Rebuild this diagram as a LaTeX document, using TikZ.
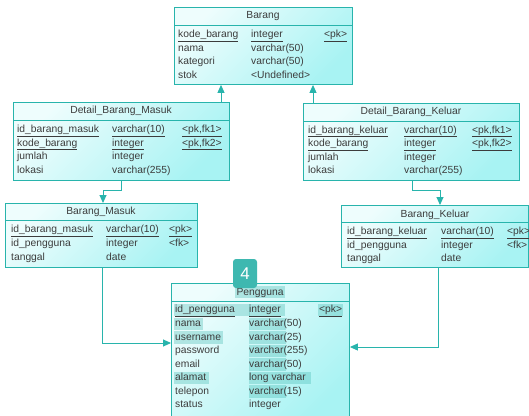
\documentclass[tikz,border=0pt]{standalone}
\usepackage{fontspec}
\setmainfont{Liberation Sans}
\usetikzlibrary{arrows.meta}
\definecolor{edgec}{RGB}{40,180,172}
\definecolor{fillA}{RGB}{238,253,253}
\definecolor{fillB}{RGB}{168,243,243}
\definecolor{txtc}{RGB}{60,60,60}
\definecolor{hlc}{RGB}{64,184,176}
\definecolor{badgec}{RGB}{62,184,176}
\newcommand\erow[8]{%
  \node[txt] (#1n) at (#3,#2) {#4};
  \node[txt] (#1t) at (#5,#2) {#6};
  \node[txt] (#1k) at (#7,#2) {#8};}
\newcommand\hlbox[3]{\fill[hlc,opacity=.33] (#1,#3-6.5) rectangle (#2,#3+6);}
\begin{document}
\begin{tikzpicture}[x=1pt,y=-1pt,
  tbl/.style={draw=edgec, line width=0.9pt, shading=axis, top color=fillA,
    bottom color=fillB, shading angle=45, rectangle, inner sep=0, anchor=north west},
  sepline/.style={draw=edgec, line width=0.9pt},
  txt/.style={anchor=mid west, inner sep=0, text=txtc, font=\fontsize{10.3}{12}\selectfont},
  ttl/.style={anchor=mid, inner sep=0, text=txtc, font=\fontsize{10.3}{12}\selectfont},
  conn/.style={draw=edgec, line width=0.9pt},
  arr/.style={conn, -{Triangle[length=8pt,width=7pt]}},
  badge/.style={fill=badgec, rounded corners=3pt, inner sep=0, minimum width=24pt,
    minimum height=29pt, text=white, font=\fontsize{17}{17}\selectfont}]
\useasboundingbox (0,0) rectangle (529,415);
\clip (0,0) rectangle (529,415);
\fill[white] (0,0) rectangle (529,415);

% ---------- Barang
\node[tbl, minimum width=178pt, minimum height=77pt] (barang) at (174,7) {};
\draw[sepline] (174,25) -- (352,25);
\node[ttl] (barangT) at (263,16) {Barang};
\erow{b1}{35}{178}{\underline{kode\_barang}}{251}{\underline{integer}}{324}{\underline{<pk>}}
\erow{b2}{48.5}{178}{nama}{251}{varchar(50)}{324}{}
\erow{b3}{62}{178}{kategori}{251}{varchar(50)}{324}{}
\erow{b4}{75.5}{178}{stok}{251}{<Undefined>}{324}{}

% ---------- Detail_Barang_Masuk
\node[tbl, minimum width=216pt, minimum height=78pt] (dbm) at (13,102) {};
\draw[sepline] (13,120) -- (229,120);
\node[ttl] (dbmT) at (121,111) {Detail\_Barang\_Masuk};
\erow{m1}{130}{17}{\underline{id\_barang\_masuk}}{112}{\underline{varchar(10)}}{182}{\underline{<pk,fk1>}}
\erow{m2}{143.5}{17}{\underline{kode\_barang}}{112}{\underline{integer}}{182}{\underline{<pk,fk2>}}
\erow{m3}{157}{17}{jumlah}{112}{integer}{182}{}
\erow{m4}{170.5}{17}{lokasi}{112}{varchar(255)}{182}{}

% ---------- Detail_Barang_Keluar
\node[tbl, minimum width=216pt, minimum height=77pt] (dbk) at (303,103) {};
\draw[sepline] (303,121) -- (519,121);
\node[ttl] (dbkT) at (411,112) {Detail\_Barang\_Keluar};
\erow{k1}{130.5}{308}{\underline{id\_barang\_keluar}}{404}{\underline{varchar(10)}}{472}{\underline{<pk,fk1>}}
\erow{k2}{144}{308}{\underline{kode\_barang}}{404}{\underline{integer}}{472}{\underline{<pk,fk2>}}
\erow{k3}{157.5}{308}{jumlah}{404}{integer}{472}{}
\erow{k4}{171}{308}{lokasi}{404}{varchar(255)}{472}{}

% ---------- Barang_Masuk
\node[tbl, minimum width=192pt, minimum height=64pt] (bm) at (5,203) {};
\draw[sepline] (5,220) -- (197,220);
\node[ttl] (bmT) at (101,211.5) {Barang\_Masuk};
\erow{p1}{230}{11}{\underline{id\_barang\_masuk}}{106}{\underline{varchar(10)}}{169}{\underline{<pk>}}
\erow{p2}{244}{11}{id\_pengguna}{106}{integer}{169}{<fk>}
\erow{p3}{257.5}{11}{tanggal}{106}{date}{169}{}

% ---------- Barang_Keluar
\node[tbl, minimum width=187pt, minimum height=62pt] (bk) at (341,205) {};
\draw[sepline] (341,222) -- (528,222);
\node[ttl] (bkT) at (435,214.5) {Barang\_Keluar};
\erow{q1}{232}{347}{\underline{id\_barang\_keluar}}{441}{\underline{varchar(10)}}{507}{\underline{<pk>}}
\erow{q2}{245.5}{347}{id\_pengguna}{441}{integer}{507}{<fk>}
\erow{q3}{259}{347}{tanggal}{441}{date}{507}{}

% ---------- Pengguna
\node[tbl, minimum width=178pt, minimum height=140pt] (peng) at (171,283) {};
\draw[sepline] (171,301) -- (349,301);
% highlights
\hlbox{235}{285}{292}
\hlbox{174}{250}{310}\hlbox{249}{285}{310}\hlbox{318}{343}{310}
\hlbox{174}{203}{324}\hlbox{249}{286}{324}
\hlbox{174}{223}{337.5}\hlbox{249}{286}{337.5}
\hlbox{249}{286}{351}
\hlbox{249}{286}{364.5}
\hlbox{174}{209}{378}\hlbox{249}{311}{378}
\hlbox{249}{286}{391.5}
\node[ttl] (pengT) at (260,292.5) {Pengguna};
\erow{u1}{310}{175}{\underline{id\_pengguna}}{249}{\underline{integer}}{319}{\underline{<pk>}}
\erow{u2}{324}{175}{nama}{249}{varchar(50)}{319}{}
\erow{u3}{337.5}{175}{username}{249}{varchar(25)}{319}{}
\erow{u4}{351}{175}{password}{249}{varchar(255)}{319}{}
\erow{u5}{364.5}{175}{email}{249}{varchar(50)}{319}{}
\erow{u6}{378}{175}{alamat}{249}{long varchar}{319}{}
\erow{u7}{391.5}{175}{telepon}{249}{varchar(15)}{319}{}
\erow{u8}{405}{175}{status}{249}{integer}{319}{}

% ---------- connectors
\coordinate (x221) at (221,0);
\coordinate (x313) at (313,0);
\coordinate (c3a) at (121,190);
\coordinate (c3b) at (103,190);
\coordinate (c4a) at (412,190);
\coordinate (c4b) at (440,190);
\coordinate (c5) at (102,343);
\coordinate (c6) at (438,347);
\draw[arr] (dbm.north -| x221) -- (barang.south -| x221);
\draw[arr] (dbk.north -| x313) -- (barang.south -| x313);
\draw[arr] (dbm.south -| c3a) -- (c3a) -- (c3b) -- (bm.north -| c3b);
\draw[arr] (dbk.south -| c4a) -- (c4a) -- (c4b) -- (bk.north -| c4b);
\draw[arr] (bm.south -| c5) -- (c5) -- (peng.west |- c5);
\draw[arr] (bk.south -| c6) -- (c6) -- (peng.east |- c6);

% ---------- badge
\node[badge] (badge4) at (245,273.5) {4};
\end{tikzpicture}
\end{document}
